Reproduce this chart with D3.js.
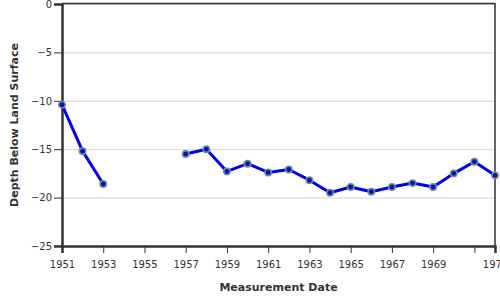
<!DOCTYPE html>
<html>
<head>
<meta charset="utf-8">
<script src="https://cdn.jsdelivr.net/npm/d3@7"></script>
<style>
  body { margin: 0; background: #fff; }
  svg { display: block; font-family: "DejaVu Sans", Verdana, sans-serif; }
</style>
</head>
<body>
<svg id="chart" width="500" height="300"></svg>
<script>
// measurement years and depth below land surface (null = no reading)
const years = [1951, 1952, 1953, 1954, 1955, 1956, 1957, 1958, 1959, 1960, 1961,
  1962, 1963, 1964, 1965, 1966, 1967, 1968, 1969, 1970, 1971, 1972];
const depths = [-10.4, -15.2, -18.6, null, null, null, -15.5, -15.0, -17.3, -16.5, -17.4,
  -17.1, -18.2, -19.5, -18.9, -19.4, -18.9, -18.5, -18.9, -17.5, -16.3, -17.7];
const yTicks = [0, -5, -10, -15, -20, -25];
const xTicks = [1951, 1953, 1955, 1957, 1959, 1961, 1963, 1965, 1967, 1969, 1971, 1972];
const xLabels = ['1951', '1953', '1955', '1957', '1959', '1961', '1963', '1965', '1967', '1969', '', '1972'];

const data = years.map((y, i) => ({ year: y, depth: depths[i] }));

const margin = { left: 62, right: 5, top: 4, bottom: 54 };
const width = 500, height = 300;
const chartWidth = width - margin.left - margin.right;
const chartHeight = height - margin.top - margin.bottom;

const svg = d3.select('#chart');

const xScale = d3.scaleLinear().domain([1951, 1972]).range([0, chartWidth]);
const yScale = d3.scaleLinear().domain([-25, 0]).range([chartHeight, 0]);

const g = svg.append('g').attr('transform', `translate(${margin.left},${margin.top})`);

// grid lines
g.append('g')
  .selectAll('line')
  .data(yTicks)
  .enter()
  .append('line')
  .attr('x1', 0)
  .attr('x2', chartWidth)
  .attr('y1', d => yScale(d) + 0.5)
  .attr('y2', d => yScale(d) + 0.5)
  .style('stroke', '#d4d4d4')
  .style('stroke-width', 1);

// top and right frame
g.append('path')
  .attr('d', `M0,-0.5H${chartWidth}V${chartHeight}`)
  .style('fill', 'none')
  .style('stroke', '#333')
  .style('stroke-width', 1.5);

// axes
const xAxis = g.append('g')
  .attr('transform', `translate(0,${chartHeight})`)
  .call(d3.axisBottom(xScale).tickValues(xTicks).tickFormat((d, i) => xLabels[i]).tickSizeOuter(0).tickSize(7).tickPadding(8));
const yAxis = g.append('g')
  .call(d3.axisLeft(yScale).tickValues(yTicks).tickSizeOuter(0).tickSize(8).tickPadding(2));

[xAxis, yAxis].forEach(a => {
  a.select('.domain').style('stroke', '#333').style('stroke-width', 2.5);
  a.selectAll('.tick line').style('stroke', '#333').style('stroke-width', 1);
  a.selectAll('.tick text').style('fill', '#333').style('font-size', '10px')
    .style('font-family', '"DejaVu Sans", Verdana, sans-serif');
});

// series line
const line = d3.line()
  .defined(d => d.depth !== null)
  .x(d => xScale(d.year))
  .y(d => yScale(d.depth));

g.append('path')
  .datum(data)
  .attr('d', line)
  .style('fill', 'none')
  .style('stroke', '#0000ee')
  .style('stroke-width', 3)
  .style('stroke-linejoin', 'round');

// points
g.append('g')
  .selectAll('circle')
  .data(data.filter(d => d.depth !== null))
  .enter()
  .append('circle')
  .attr('cx', d => xScale(d.year))
  .attr('cy', d => yScale(d.depth))
  .attr('r', 3.2)
  .style('fill', '#0a14b4')
  .style('stroke', '#6f8f96')
  .style('stroke-width', 1.5);

// axis titles
svg.append('text')
  .attr('x', margin.left + chartWidth / 2)
  .attr('y', 291)
  .attr('text-anchor', 'middle')
  .style('font-size', '11px')
  .style('font-weight', 'bold')
  .style('fill', '#333')
  .text('Measurement Date');

svg.append('text')
  .attr('transform', `translate(18,${margin.top + chartHeight / 2}) rotate(-90)`)
  .attr('text-anchor', 'middle')
  .style('font-size', '11px')
  .style('font-weight', 'bold')
  .style('fill', '#333')
  .text('Depth Below Land Surface');
</script>
</body>
</html>
